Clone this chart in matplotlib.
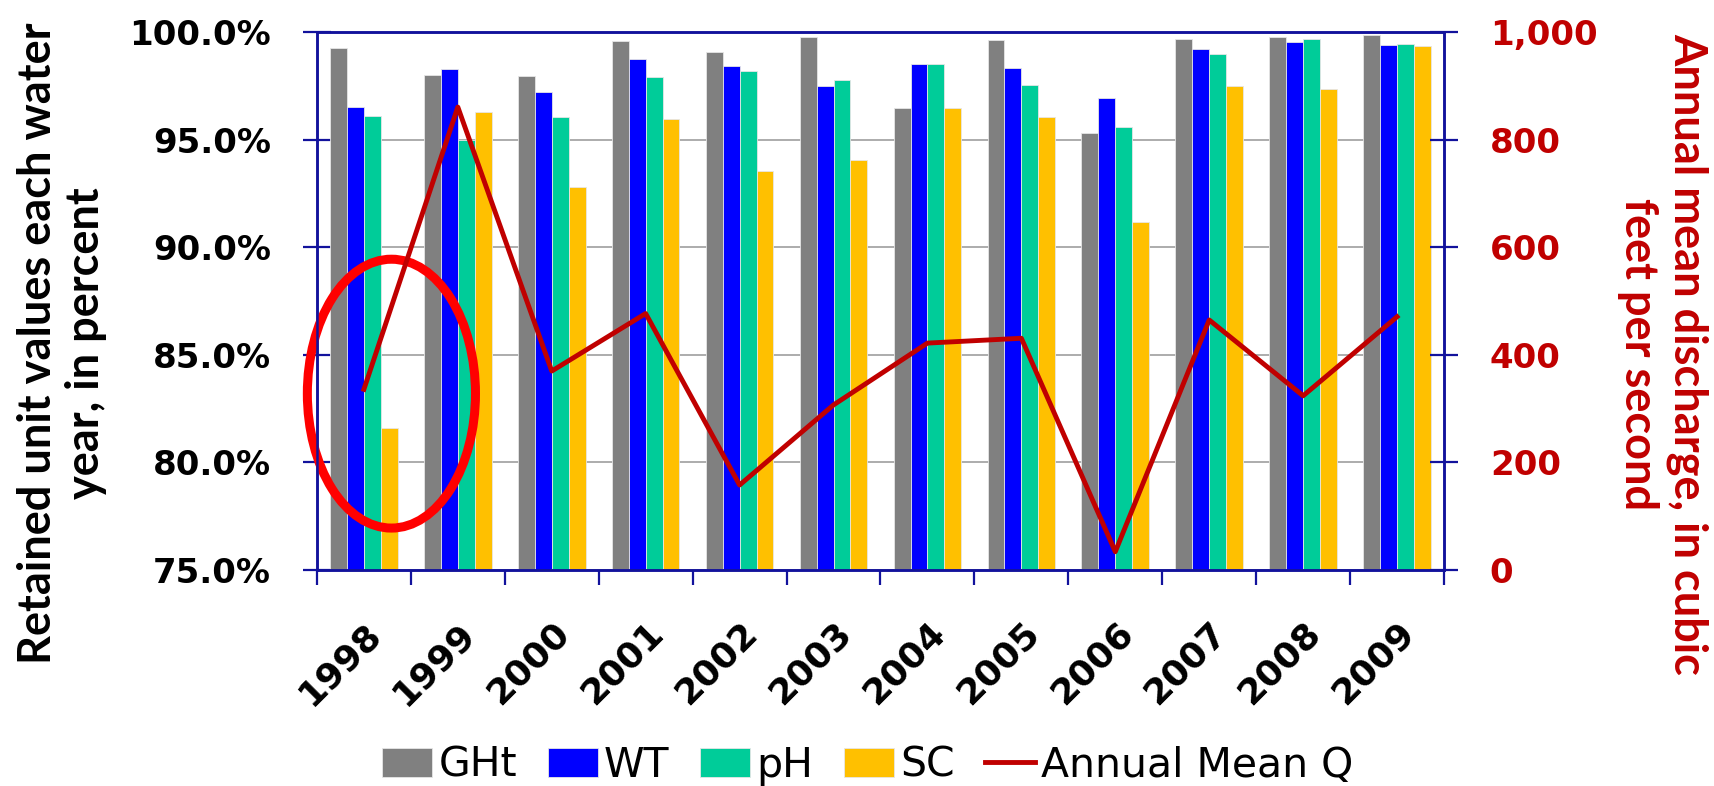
import matplotlib
matplotlib.use('Agg')
import matplotlib.pyplot as plt
from matplotlib.patches import Ellipse
from matplotlib.ticker import FuncFormatter
import numpy as np

# Datos
anios = ['1998', '1999', '2000', '2001', '2002', '2003',
         '2004', '2005', '2006', '2007', '2008', '2009']
ght = [99.29, 98.03, 97.97, 99.58, 99.09, 99.77, 96.50, 99.64, 95.31, 99.70, 99.77, 99.89]
wt = [96.54, 98.28, 97.21, 98.75, 98.45, 97.51, 98.51, 98.33, 96.96, 99.22, 99.54, 99.41]
ph = [96.13, 95.00, 96.08, 97.91, 98.22, 97.80, 98.51, 97.55, 95.60, 98.99, 99.70, 99.47]
sc = [81.62, 96.31, 92.80, 95.96, 93.57, 94.05, 96.50, 96.08, 91.20, 97.51, 97.38, 99.35]
caudal = [336, 861, 370, 477, 158, 307, 422, 431, 34, 465, 324, 471]

series = [('GHt', ght, '#808080'), ('WT', wt, '#0000FF'),
          ('pH', ph, '#00CC99'), ('SC', sc, '#FFC000')]

azul = '#12129C'
rojo = '#C00000'

fig = plt.figure(figsize=(17.15, 7.86), dpi=100)
ax = fig.add_axes([0.1848, 0.2748, 0.6572, 0.6841])

x = np.arange(len(anios))
ancho = 0.18
for i, (nombre, vals, color) in enumerate(series):
    ax.bar(x + (i - 1.5) * ancho, vals, ancho, color=color, label=nombre,
           edgecolor='#E6E6E6', linewidth=0.6, zorder=2)

ax.set_ylim(75, 100)
ax.set_xlim(-0.5, len(anios) - 0.5)
ax.set_yticks(np.arange(75, 100.1, 5))
ax.yaxis.set_major_formatter(FuncFormatter(lambda v, p: '%.1f%%' % v))
ax.grid(axis='y', color='#A6A6A6', linewidth=1.3, zorder=0)
ax.set_axisbelow(True)

# Ticks del eje x: etiquetas al centro, marcas en los limites
ax.set_xticks(x)
ax.set_xticklabels(anios, rotation=45, ha='right', rotation_mode='anchor',
                   fontsize=26, fontweight='bold')
ax.set_xticks(np.arange(-0.5, len(anios)), minor=True)
ax.tick_params(axis='x', which='major', length=0, pad=33)
ax.tick_params(axis='x', which='minor', length=11, width=1.6, color=azul, direction='out')
ax.tick_params(axis='y', length=20, width=1.6, color=azul, direction='inout',
               labelsize=24.5, pad=23)
for lab in ax.get_yticklabels():
    lab.set_fontweight('bold')

for s in ax.spines.values():
    s.set_color(azul)
    s.set_linewidth(1.8)

# Eje secundario con el caudal
ax2 = ax.twinx()
ax2.plot(x, caudal, color=rojo, linewidth=3.5, label='Annual Mean Q', zorder=3)
ax2.set_ylim(0, 1000)
ax2.set_yticks(np.arange(0, 1001, 200))
ax2.yaxis.set_major_formatter(FuncFormatter(lambda v, p: '{:,.0f}'.format(v)))
ax2.tick_params(axis='y', length=20, width=1.6, color=azul, direction='inout',
                labelsize=24.5, labelcolor=rojo, pad=23)
for lab in ax2.get_yticklabels():
    lab.set_fontweight('bold')
for s in ax2.spines.values():
    s.set_color(azul)
    s.set_linewidth(1.8)

# Elipse roja
elipse = Ellipse((0.293, 83.2), 1.79, 12.5, fill=False, edgecolor='#FF0000',
                 linewidth=6.5, zorder=5, clip_on=False)
ax.add_patch(elipse)

# Titulos de los ejes
fig.text(62 / 1715, 1 - 343 / 786,
         'Retained unit values each water\nyear, in percent',
         rotation=90, ha='center', va='center', multialignment='center',
         fontsize=32.5, fontweight='bold', family='Lato', linespacing=1.2)
fig.text(1663 / 1715, 1 - 354 / 786,
         'Annual mean discharge, in cubic\nfeet per second',
         rotation=270, ha='center', va='center', multialignment='center',
         fontsize=32.5, fontweight='bold', family='Lato', linespacing=1.2, color=rojo)

h1, l1 = ax.get_legend_handles_labels()
h2, l2 = ax2.get_legend_handles_labels()
fig.legend(h1 + h2, l1 + l2, loc='center', bbox_to_anchor=(868 / 1715, 0.026),
           ncol=5, frameon=False, fontsize=29.5, handlelength=1.22, handleheight=0.7,
           handletextpad=0.15, columnspacing=0.75)

fig.savefig('out.png', dpi=100)
